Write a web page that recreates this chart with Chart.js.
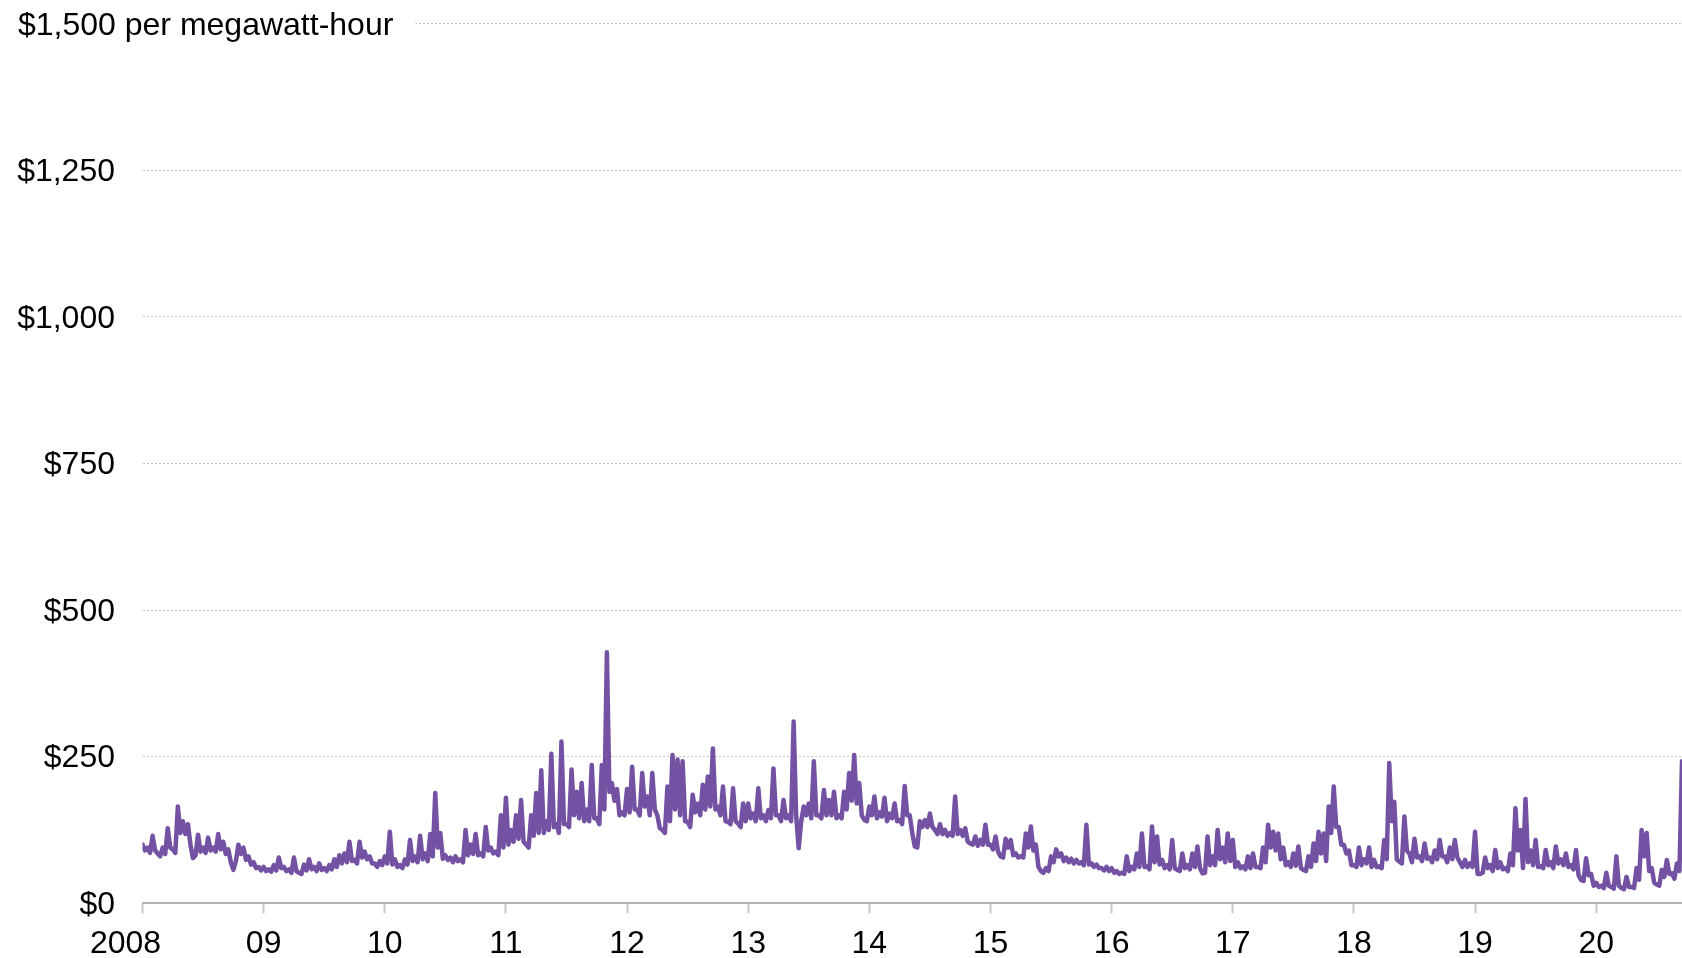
<!DOCTYPE html>
<html>
<head>
<meta charset="utf-8">
<script src="https://cdn.jsdelivr.net/npm/chart.js@4/dist/chart.umd.min.js"></script>
<style>
  html, body { margin: 0; padding: 0; background: #fff; }
  canvas { display: block; }
</style>
</head>
<body>
<canvas id="priceChart" width="1682" height="958"></canvas>
<script>
// $ per MWh: one reading per half month plus the band low in between
const years = [2008, 2009, 2010, 2011, 2012, 2013, 2014, 2015, 2016, 2017, 2018, 2019, 2020];
const yearLabels = ['2008', '09', '10', '11', '12', '13', '14', '15', '16', '17', '18', '19', '20'];
const priceTicks = [0, 250, 500, 750, 1000, 1250, 1500];

const prices2008 = [100, 95, 115, 85, 95, 128, 92, 165, 140, 135, 77, 117, 95, 112, 95, 118, 105, 92, 57, 100, 95, 80, 70, 62];
const prices2009 = [62, 58, 65, 78, 62, 58, 78, 52, 66, 75, 62, 68, 60, 65, 75, 82, 85, 105, 74, 105, 88, 80, 68, 72];
const prices2010 = [80, 122, 75, 65, 75, 108, 80, 115, 85, 118, 188, 120, 82, 78, 80, 75, 125, 100, 118, 85, 130, 95, 88, 150];
const prices2011 = [180, 125, 150, 176, 100, 150, 188, 227, 140, 255, 135, 276, 135, 228, 190, 205, 160, 236, 145, 236, 428, 205, 195, 155];
const prices2012 = [195, 233, 160, 222, 182, 222, 150, 125, 199, 253, 245, 242, 139, 185, 170, 202, 216, 264, 165, 199, 139, 196, 136, 170];
const prices2013 = [170, 153, 196, 150, 159, 230, 150, 176, 150, 310, 94, 165, 170, 242, 150, 193, 176, 190, 150, 190, 222, 253, 205, 142];
const prices2014 = [165, 182, 155, 180, 153, 170, 142, 200, 150, 97, 140, 142, 153, 125, 135, 125, 120, 182, 125, 128, 102, 114, 108, 134];
const prices2015 = [100, 114, 80, 110, 108, 85, 80, 119, 131, 100, 55, 60, 80, 92, 85, 78, 76, 74, 70, 134, 68, 66, 60, 62];
const prices2016 = [60, 55, 52, 80, 62, 85, 119, 63, 131, 114, 74, 65, 108, 57, 85, 65, 85, 97, 51, 114, 80, 125, 95, 119];
const prices2017 = [108, 70, 63, 80, 85, 62, 95, 134, 122, 119, 95, 70, 85, 97, 57, 80, 102, 122, 119, 165, 199, 130, 100, 90];
const prices2018 = [65, 95, 75, 95, 74, 63, 108, 239, 173, 71, 148, 85, 110, 80, 102, 78, 90, 108, 80, 95, 108, 70, 74, 68];
const prices2019 = [122, 50, 78, 65, 91, 70, 60, 85, 162, 125, 178, 90, 108, 63, 91, 70, 97, 75, 85, 65, 91, 40, 77, 50];
const prices2020 = [35, 30, 52, 28, 80, 26, 45, 28, 60, 125, 120, 60, 32, 57, 74, 51, 68, 242];

const lows2008 = [90, 86, 90, 80, 84, 95, 86, 120, 118, 100, 82, 88, 86, 90, 88, 92, 84, 70, 72, 84, 74, 66, 60, 56];
const lows2009 = [55, 54, 56, 60, 55, 52, 55, 50, 56, 58, 55, 57, 55, 58, 62, 68, 70, 72, 68, 78, 75, 68, 62, 65];
const lows2010 = [68, 66, 62, 60, 66, 72, 70, 75, 72, 80, 95, 76, 74, 70, 72, 70, 82, 84, 82, 80, 90, 85, 82, 95];
const lows2011 = [100, 105, 110, 105, 95, 115, 120, 120, 125, 130, 120, 135, 130, 150, 145, 140, 140, 145, 135, 160, 190, 175, 150, 150];
const lows2012 = [155, 160, 150, 165, 150, 160, 128, 120, 140, 160, 150, 140, 130, 155, 150, 160, 165, 160, 150, 140, 135, 140, 130, 140];
const lows2013 = [145, 140, 145, 140, 145, 150, 140, 145, 140, 150, 140, 150, 145, 150, 145, 150, 150, 145, 145, 160, 175, 170, 150, 140];
const lows2014 = [150, 145, 148, 140, 145, 140, 135, 150, 120, 95, 130, 130, 130, 118, 118, 115, 115, 118, 115, 105, 100, 98, 100, 100];
const lows2015 = [92, 88, 78, 95, 82, 78, 78, 95, 90, 62, 52, 55, 70, 80, 72, 70, 68, 68, 65, 66, 62, 60, 56, 55];
const lows2016 = [52, 50, 50, 55, 58, 62, 62, 58, 70, 66, 60, 58, 60, 55, 60, 58, 62, 60, 52, 65, 65, 75, 70, 72];
const lows2017 = [62, 60, 58, 60, 62, 60, 70, 95, 90, 75, 65, 62, 64, 60, 55, 62, 72, 85, 72, 120, 130, 100, 85, 65];
const lows2018 = [62, 65, 68, 62, 62, 60, 75, 140, 75, 68, 90, 70, 78, 72, 76, 70, 75, 80, 70, 75, 78, 62, 62, 62];
const lows2019 = [50, 52, 60, 55, 60, 58, 55, 65, 90, 60, 70, 65, 62, 60, 65, 60, 68, 65, 62, 58, 48, 38, 48, 30];
const lows2020 = [28, 26, 30, 25, 30, 24, 28, 26, 40, 80, 55, 35, 30, 45, 50, 42, 55];

const fontFamily = '"Liberation Sans", Arial, Helvetica, sans-serif';
const fontSize = 32;

function money(v) {
  return '$' + String(v).replace(/\B(?=(\d{3})+(?!\d))/g, ',');
}

function buildPoints() {
  const series = [prices2008, prices2009, prices2010, prices2011, prices2012, prices2013, prices2014,
    prices2015, prices2016, prices2017, prices2018, prices2019, prices2020];
  const lows = [lows2008, lows2009, lows2010, lows2011, lows2012, lows2013, lows2014,
    lows2015, lows2016, lows2017, lows2018, lows2019, lows2020];
  const pts = [];
  series.forEach((vals, k) => {
    vals.forEach((v, i) => {
      pts.push({ x: years[k] + i / 24, y: v });
      if (lows[k][i] !== undefined) pts.push({ x: years[k] + i / 24 + 1 / 48, y: lows[k][i] });
    });
  });
  return pts;
}

// title sits on the top gridline, x labels drawn under the ticks
const labelPlugin = {
  id: 'labelPlugin',
  afterDraw(chart) {
    const ctx = chart.ctx;
    const xs = chart.scales.x;
    const ys = chart.scales.y;
    ctx.save();
    ctx.font = fontSize + 'px ' + fontFamily;
    const title = '$1,500 per megawatt-hour';
    const yTop = ys.getPixelForValue(1500);
    const w = ctx.measureText(title).width;
    ctx.fillStyle = '#fff';
    ctx.fillRect(0, yTop - 20, 18 + w + 22, 40);
    ctx.fillStyle = '#000';
    ctx.textAlign = 'left';
    ctx.textBaseline = 'alphabetic';
    ctx.fillText(title, 18, yTop + 11.5);

    ctx.textAlign = 'center';
    years.forEach((yr, i) => {
      let x = xs.getPixelForValue(yr);
      if (i === 0) x -= 17;
      ctx.fillText(yearLabels[i], x, 953);
    });
    ctx.restore();
  }
};

const ctx = document.getElementById('priceChart').getContext('2d');
new Chart(ctx, {
  type: 'line',
  data: {
    datasets: [{
      data: buildPoints(),
      borderColor: '#7452a3',
      borderWidth: 4.5,
      borderJoinStyle: 'round',
      borderCapStyle: 'round',
      pointRadius: 0,
      tension: 0,
      fill: false
    }]
  },
  options: {
    responsive: false,
    animation: false,
    layout: { padding: { top: 23.5, left: 0, right: 0, bottom: 0 } },
    plugins: { legend: { display: false }, tooltip: { enabled: false } },
    scales: {
      x: {
        type: 'linear',
        min: 2008,
        max: 2020 + 17 / 24,
        afterFit: s => { s.height = 54.7; s.paddingLeft = 0; s.paddingRight = 0; },
        afterBuildTicks: s => { s.ticks = years.map(v => ({ value: v })); },
        border: { display: true, color: '#b3b3b3', width: 2 },
        grid: { drawOnChartArea: false, drawTicks: true, tickLength: 10, tickColor: '#c8c8c8', tickWidth: 2 },
        ticks: { display: false }
      },
      y: {
        min: 0,
        max: 1500,
        afterFit: s => { s.width = 142.5; s.paddingTop = 0; s.paddingBottom = 0; },
        afterBuildTicks: s => { s.ticks = priceTicks.map(v => ({ value: v })); },
        border: { display: false, dash: [2, 2] },
        grid: {
          color: c => (c.tick && c.tick.value === 0) ? 'rgba(0,0,0,0)' : '#c6c6c6',
          lineWidth: 1,
          drawTicks: false
        },
        ticks: {
          padding: 27.5,
          labelOffset: 2,
          color: '#000',
          font: { family: fontFamily, size: fontSize },
          callback: v => v === 1500 ? '' : money(v)
        }
      }
    }
  },
  plugins: [labelPlugin]
});
</script>
</body>
</html>
